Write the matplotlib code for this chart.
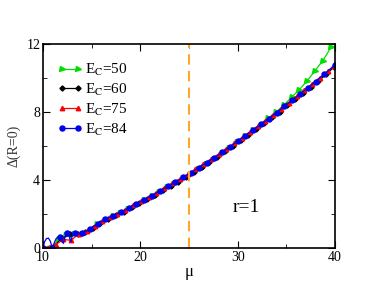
import numpy as np
import matplotlib
matplotlib.use("Agg")
import matplotlib.pyplot as plt
from matplotlib.ticker import MultipleLocator
from matplotlib.lines import Line2D

plt.rcParams['font.family'] = ['Liberation Serif', 'DejaVu Serif']
plt.rcParams['mathtext.fontset'] = 'stix'

# E_C = 84 (blue, circles)
mu_84 = [10.0, 10.9, 11.7, 12.5, 13.3, 14.05, 14.85, 15.6, 16.4, 17.2, 18.0, 18.8,
         19.6, 20.4, 21.2, 22.0, 22.8, 23.6, 24.4, 25.2, 26.0, 26.8, 27.6, 28.4,
         29.2, 30.0, 30.8, 31.6, 32.4, 33.2, 34.0, 34.8, 35.6, 36.4, 37.2, 38.0,
         38.9, 40.0]
d_84 = [0.0, 0.0, 0.63, 0.86, 0.9, 0.86, 1.12, 1.42, 1.68, 1.9, 2.1, 2.34,
        2.6, 2.84, 3.08, 3.35, 3.61, 3.87, 4.14, 4.42, 4.72, 5.01, 5.3, 5.61,
        5.93, 6.27, 6.6, 6.93, 7.26, 7.59, 7.95, 8.31, 8.67, 9.03, 9.39, 9.77,
        10.2, 10.75]
# oscillating part of the blue line at small mu
mu_84_low = [10.0, 10.15, 10.35, 10.55, 10.75, 10.9, 11.0, 11.15, 11.35, 11.55, 11.7,
             11.85, 12.0, 12.1, 12.2, 12.35, 12.5, 12.65, 12.8, 12.87, 12.95, 13.1,
             13.3, 13.6, 14.05]
d_84_low = [0.0, 0.35, 0.55, 0.58, 0.4, 0.1, 0.0, 0.3, 0.55, 0.64, 0.63,
            0.55, 0.35, 0.27, 0.55, 0.8, 0.86, 0.75, 0.45, 0.37, 0.6, 0.85,
            0.9, 0.85, 0.86]

# E_C = 60 (black, diamonds)
mu_60 = [10.0, 11.0, 11.9, 12.8, 13.6, 14.35, 15.15, 15.9, 16.7, 17.5, 18.3, 19.1,
         19.9, 20.7, 21.5, 22.3, 23.1, 23.9, 24.7, 25.5, 26.3, 27.1, 27.9, 28.7,
         29.5, 30.3, 31.1, 31.9, 32.7, 33.5, 34.3, 35.1, 35.9, 36.7, 37.5, 38.3,
         39.1, 39.9]
d_60 = [0.0, 0.05, 0.55, 0.8, 0.85, 0.92, 1.18, 1.48, 1.73, 1.93, 2.14, 2.38,
        2.63, 2.88, 3.13, 3.4, 3.66, 3.9, 4.17, 4.47, 4.77, 5.06, 5.36, 5.68,
        6.0, 6.33, 6.66, 6.99, 7.31, 7.66, 8.0, 8.37, 8.72, 9.08, 9.45, 9.8,
        10.2, 10.62]

# E_C = 75 (red, triangles up)
mu_75 = [10.0, 11.3, 12.1, 12.9, 13.7, 14.5, 15.3, 16.05, 16.85, 17.65, 18.45, 19.25,
         20.05, 20.85, 21.65, 22.45, 23.25, 24.05, 24.85, 25.65, 26.45, 27.25, 28.05,
         28.85, 29.65, 30.45, 31.25, 32.05, 32.85, 33.65, 34.45, 35.25, 36.05, 36.85,
         37.65, 38.45, 39.25, 39.9]
d_75 = [0.0, 0.2, 0.5, 0.45, 0.85, 1.0, 1.3, 1.57, 1.82, 2.02, 2.25, 2.5,
        2.75, 3.0, 3.25, 3.52, 3.8, 4.06, 4.33, 4.62, 4.92, 5.2, 5.5,
        5.82, 6.15, 6.48, 6.82, 7.15, 7.48, 7.83, 8.18, 8.53, 8.9, 9.25,
        9.63, 10.0, 10.38, 10.68]

# E_C = 50 (green, triangles right)
mu_50 = [10.0, 10.8, 11.6, 12.4, 13.2, 14.0, 14.8, 15.55, 16.35, 17.15, 17.95, 18.75,
         19.55, 20.35, 21.15, 21.95, 22.75, 23.55, 24.35, 25.15, 25.95, 26.75, 27.55,
         28.35, 29.15, 29.95, 30.75, 31.55, 32.35, 33.15, 33.95, 34.75, 35.55, 36.35,
         37.15, 37.95, 38.75, 39.6]
d_50 = [0.0, 0.0, 0.5, 0.75, 0.8, 0.85, 1.08, 1.38, 1.64, 1.86, 2.06, 2.3,
        2.55, 2.8, 3.04, 3.3, 3.56, 3.82, 4.08, 4.36, 4.66, 4.95, 5.25,
        5.55, 5.88, 6.22, 6.55, 6.9, 7.24, 7.6, 7.98, 8.4, 8.85, 9.3,
        9.82, 10.4, 11.0, 11.78]

mu_c = 25.0

fig = plt.figure(figsize=(3.76, 2.91), dpi=100)
ax = fig.add_axes([0.1144, 0.1478, 0.7766, 0.7027])

ax.plot(mu_50, d_50, color='#00dd00', marker='>', ms=3.6, lw=0.9, label=r'E$_\mathrm{C}$=50')
ax.plot(mu_60, d_60, color='black', marker='D', ms=2.6, lw=0.9, label=r'E$_\mathrm{C}$=60')
ax.plot(mu_75, d_75, color='red', marker='^', ms=3.2, lw=0.9, label=r'E$_\mathrm{C}$=75')
ax.plot(mu_84_low + mu_84[6:], d_84_low + d_84[6:], color='#0000ee', lw=0.9)
ax.plot(mu_84, d_84, color='#0000ee', marker='o', ms=3.6, lw=0, label=r'E$_\mathrm{C}$=84')
handles, labels = ax.get_legend_handles_labels()
handles[3] = Line2D([], [], color='#0000ee', marker='o', ms=3.6, lw=0.9)

ax.axvline(mu_c, color='#ffa726', ls=(0, (5, 3)), lw=1.5)

ax.text(30.9, 2.35, 'r=1', fontsize=14, ha='center', va='center')

ax.set_xlim(10, 40)
ax.set_ylim(0, 12)
ax.xaxis.set_major_locator(MultipleLocator(10))
ax.xaxis.set_minor_locator(MultipleLocator(5))
ax.yaxis.set_major_locator(MultipleLocator(4))
ax.yaxis.set_minor_locator(MultipleLocator(2))
ax.tick_params(which='both', direction='in', top=True, right=True, labelsize=10, pad=2)
ax.tick_params(which='major', length=5)
ax.tick_params(which='minor', length=3)
for s in ax.spines.values():
    s.set_linewidth(1.2)

ax.set_xlabel('μ', fontsize=12, labelpad=0)
ax.set_ylabel('Δ(R=0)', fontsize=10, color='#333333', labelpad=4)

ax.legend(handles, labels, loc='upper left', bbox_to_anchor=(0.03, 0.94), frameon=False,
          numpoints=2, handlelength=1.6, handletextpad=0.2, labelspacing=0.25,
          fontsize=11, borderaxespad=0)

fig.savefig('out.png', dpi=100)
